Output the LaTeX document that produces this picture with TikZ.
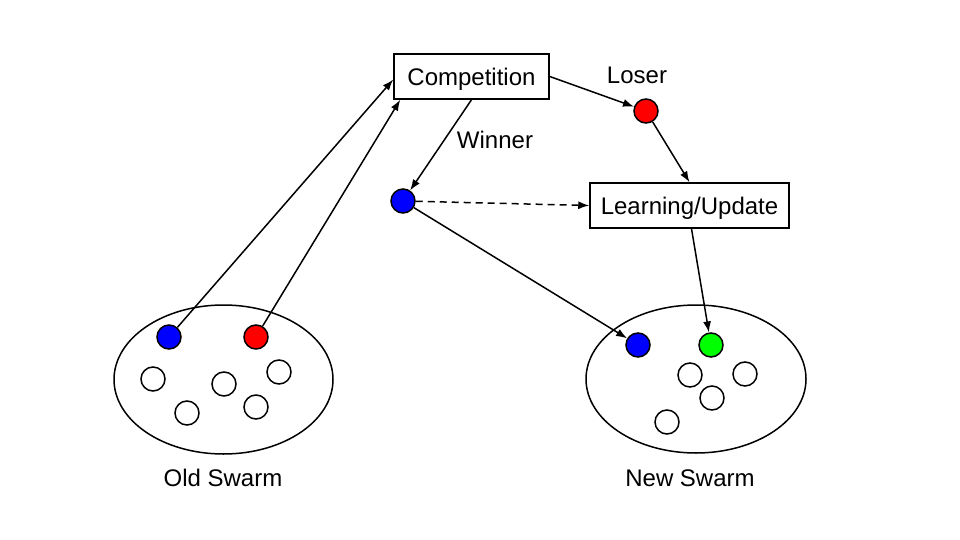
\documentclass[tikz,border=0pt]{standalone}
\usepackage{fontspec}
\setmainfont{Liberation Sans}
\usetikzlibrary{arrows.meta,calc}
\begin{document}
\begin{tikzpicture}[x=1pt,y=-1pt,
  every node/.style={font=\fontsize{24}{29}\selectfont,text depth=0pt},
  dot/.style={circle,draw,line width=1.5pt,minimum size=24pt,inner sep=0pt},
  boxnode/.style={draw,line width=1.5pt,inner sep=0pt},
  arr/.style={line width=1.5pt,-{Latex[length=11pt,width=8pt]}},
  swarm/.style={draw,line width=1.5pt}]
\useasboundingbox (0,0) rectangle (960,540);
% swarms
\draw[swarm] (223.5,379.5) ellipse [x radius=109.5, y radius=74.5];
\draw[swarm] (696,379) ellipse [x radius=110, y radius=74];
% old swarm particles
\node[dot,fill=blue] (ob) at (169,337) {};
\node[dot,fill=red] (orr) at (256,337) {};
\node[dot] (ow1) at (153,379) {};
\node[dot] (ow2) at (224,384) {};
\node[dot] (ow3) at (279,372) {};
\node[dot] (ow4) at (187,413) {};
\node[dot] (ow5) at (256,407) {};
% new swarm particles
\node[dot,fill=blue] (nb) at (638,345) {};
\node[dot,fill=green] (ng) at (711,345) {};
\node[dot] (nw1) at (690,375) {};
\node[dot] (nw2) at (745,374) {};
\node[dot] (nw3) at (712,398) {};
\node[dot] (nw4) at (667,422) {};
% boxes
\node[boxnode,minimum width=155pt,minimum height=45pt] (comp) at (471.5,76.5) {Competition};
\node[boxnode,minimum width=199pt,minimum height=45pt] (learn) at (689.5,205.5) {Learning/Update};
% winner / loser
\node[dot,fill=red] (los) at (646,111) {};
\node[dot,fill=blue] (win) at (403,201) {};
\node (loslab) at (637,75) {Loser};
\node (winlab) at (495,140) {Winner};
% swarm labels
\node (oldlab) at (223,478) {Old Swarm};
\node (newlab) at (690,478) {New Swarm};
% connectors
\draw[arr] (ob) -- ($(comp.west)+(0,3)$);
\draw[arr] (orr) -- ($(comp.south west)+(7,0)$);
\draw[arr] (comp.south) -- (win);
\draw[arr] (comp.east) -- (los);
\draw[arr] (los) -- (learn.north);
\draw[arr,dashed,dash pattern=on 7pt off 5pt] (win) -- (learn.west);
\draw[arr] (win) -- (nb);
\draw[arr] ($(learn.south)+(2,0)$) -- (ng);
\end{tikzpicture}
\end{document}
